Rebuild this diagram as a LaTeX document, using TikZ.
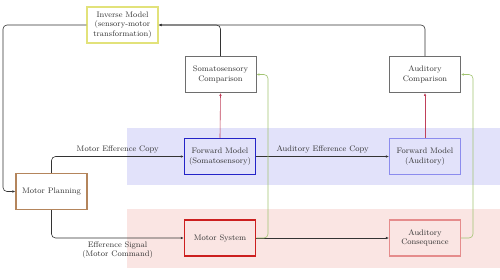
\documentclass[tikz,border=0pt]{standalone}
\usetikzlibrary{arrows.meta,positioning}
\definecolor{ink}{HTML}{333333}
\definecolor{frame}{HTML}{6E6E6E}
\definecolor{invy}{HTML}{E2E27A}
\definecolor{fwdb}{HTML}{2424C8}
\definecolor{fwdbl}{HTML}{8C8CEE}
\definecolor{planb}{HTML}{B4855C}
\definecolor{motr}{HTML}{CC1F1F}
\definecolor{motrl}{HTML}{E58C8C}
\definecolor{bandb}{HTML}{E2E2FA}
\definecolor{bandr}{HTML}{FAE5E3}
\definecolor{errr}{HTML}{C0405A}
\definecolor{fbg}{HTML}{A2C472}
\tikzset{
  box/.style={draw=frame,line width=.9pt,minimum width=71pt,minimum height=36pt,inner sep=2pt,align=center,font=\footnotesize,text=ink},
  boxinv/.style={box,draw=invy,line width=1.1pt},
  boxfs/.style={box,draw=fwdb,line width=1.5pt},
  boxfa/.style={box,draw=fwdbl,line width=1.1pt},
  boxpl/.style={box,draw=planb,line width=1.2pt},
  boxms/.style={box,draw=motr,line width=1.5pt},
  boxac/.style={box,draw=motrl,line width=1.1pt},
  lbl/.style={align=center,font=\footnotesize,text=ink},
  ar/.style={-{Latex[length=3pt,width=2.6pt]},draw=ink,line width=.6pt,rounded corners=4pt},
  arr/.style={ar,draw=errr},
  arg/.style={ar,draw=fbg},
}
\begin{document}
\begin{tikzpicture}[x=1pt,y=1pt]
  \useasboundingbox (0,0) rectangle (500,279);
  % ── bands ──
  \fill[bandb] (127,94) rectangle (500,151);
  \fill[bandr] (127,11) rectangle (500,70);
  % ── boxes ──
  \node[boxinv] (inv) at (122.5,254) {Inverse Model\\(sensory-motor\\transformation)};
  \node[box] (somacmp) at (220.5,204.5) {Somatosensory\\Comparison};
  \node[box] (audcmp) at (425,204.5) {Auditory\\Comparison};
  \node[boxfs] (fwdsoma) at (220,122.5) {Forward Model\\(Somatosensory)};
  \node[boxfa] (fwdaud) at (425,122.5) {Forward Model\\(Auditory)};
  \node[boxpl] (plan) at (51.5,87.5) {Motor Planning};
  \node[boxms] (motsys) at (220,41) {Motor System};
  \node[boxac] (audcons) at (425,41) {Auditory\\Consequence};
  \coordinate (lft) at (3,0);
  \coordinate (gs) at (268,0);
  \coordinate (ga) at (473,0);
  % ── connectors ──
  \draw[ar] (somacmp.north) |- (inv.east);
  \draw[ar] (audcmp.north) |- (inv.east);
  \draw[ar] (inv.west) -- (inv.west -| lft) |- (plan.west);
  \draw[ar] (plan.north) |- node[lbl,above,pos=.75]{Motor Efference Copy} (fwdsoma.west);
  \draw[ar] (plan.south) |- node[lbl,below,pos=.75]{Efference Signal\\(Motor Command)} (motsys.west);
  \draw[ar] (fwdsoma.east) -- node[lbl,above]{Auditory Efference Copy} (fwdaud.west);
  \draw[arr] (fwdsoma.north) -- (somacmp.south);
  \draw[arr] (fwdaud.north) -- (audcmp.south);
  \draw[ar] (motsys.east) -- (audcons.west);
  \draw[arg] (motsys.east) -| (gs |- somacmp.east) -- (somacmp.east);
  \draw[arg] (audcons.east) -| (ga |- audcmp.east) -- (audcmp.east);
\end{tikzpicture}
\end{document}
